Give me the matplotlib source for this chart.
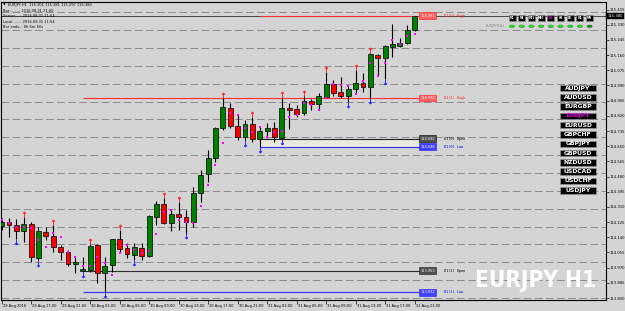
import matplotlib
matplotlib.use('Agg')
import matplotlib.pyplot as plt
import matplotlib.transforms as mtransforms
from matplotlib.patches import Rectangle, Circle
from matplotlib import font_manager
from matplotlib.font_manager import FontProperties

# ---------------- data ----------------
opens = [114.205, 114.227, 114.209, 114.177, 114.213, 114.022, 114.171, 114.149, 114.084, 114.056,
         113.990, 113.953, 113.957, 114.095, 113.938, 113.985, 114.129, 114.078, 114.041, 114.082,
         114.037, 114.255, 114.325, 114.222, 114.270, 114.255, 114.224, 114.390, 114.494, 114.582,
         114.750, 114.862, 114.765, 114.700, 114.773, 114.690, 114.737, 114.754, 114.698, 114.866,
         114.858, 114.834, 114.903, 114.886, 114.927, 114.997, 114.952, 114.933, 114.969, 115.002,
         114.980, 115.161, 115.146, 115.204, 115.213, 115.230, 115.301]
highs = [114.248, 114.248, 114.242, 114.251, 114.226, 114.199, 114.199, 114.209, 114.097, 114.069,
         114.031, 114.031, 114.100, 114.101, 114.031, 114.133, 114.181, 114.106, 114.106, 114.108,
         114.265, 114.345, 114.360, 114.293, 114.339, 114.293, 114.423, 114.517, 114.629, 114.759,
         114.920, 114.890, 114.825, 114.797, 114.815, 114.759, 114.782, 114.787, 114.928, 114.890,
         114.881, 114.931, 114.914, 114.946, 115.067, 115.021, 115.039, 114.993, 115.077, 115.058,
         115.172, 115.165, 115.217, 115.333, 115.254, 115.329, 115.381]
lows = [114.181, 114.143, 114.130, 114.115, 114.003, 114.007, 114.125, 114.059, 114.013, 113.979,
        113.938, 113.946, 113.947, 113.882, 113.832, 113.947, 114.050, 114.022, 114.013, 114.013,
        114.032, 114.209, 114.214, 114.177, 114.181, 114.161, 114.196, 114.339, 114.451, 114.563,
        114.741, 114.750, 114.685, 114.679, 114.675, 114.644, 114.694, 114.675, 114.688, 114.746,
        114.815, 114.825, 114.853, 114.858, 114.922, 114.933, 114.918, 114.897, 114.946, 114.952,
        114.917, 115.043, 115.026, 115.148, 115.204, 115.221, 115.297]
closes = [114.227, 114.209, 114.177, 114.214, 114.028, 114.173, 114.147, 114.084, 114.056, 113.990,
          114.003, 113.962, 114.091, 113.938, 113.981, 114.129, 114.076, 114.045, 114.087, 114.037,
          114.259, 114.326, 114.222, 114.270, 114.252, 114.227, 114.386, 114.489, 114.582, 114.754,
          114.868, 114.765, 114.700, 114.773, 114.689, 114.735, 114.750, 114.699, 114.862, 114.854,
          114.829, 114.903, 114.886, 114.931, 114.998, 114.946, 114.933, 114.970, 115.002, 114.980,
          115.165, 115.146, 115.211, 115.221, 115.226, 115.301, 115.380]
dots = [114.237, 114.218, 114.199, 114.199, 114.194, 114.125, 114.087, 114.166, 114.140, 114.056,
        114.030, 113.979, 113.979, 114.031, 113.994, 113.929, 114.054, 114.097, 114.069, 114.054,
        114.065, 114.157, 114.280, 114.293, 114.237, 114.226, 114.222, 114.315, 114.433, 114.546,
        114.670, 114.834, 114.826, 114.750, 114.728, 114.759, 114.703, 114.728, 114.735, 114.812,
        114.825, 114.894, 114.881, 114.853, 114.922, 114.998, 114.993, 114.987, 114.941, 115.015,
        115.117, 115.045, 115.117, 115.245, 115.222, 115.269, 115.278]
up_arrows = [3, 7, 12, 16, 22, 24, 30, 34, 38, 41, 44, 48, 50]
down_arrows = [2, 5, 11, 14, 18, 25, 33, 35, 38, 47, 50, 52]

time_tick_idx = [0, 4, 8, 12, 16, 20, 24, 28, 32, 36, 40, 44, 48, 52, 56]
time_tick_labels = ["29 Aug 2016", "29 Aug 17:00", "29 Aug 21:00", "30 Aug 01:00", "30 Aug 05:00",
                    "30 Aug 09:00", "30 Aug 13:00", "30 Aug 17:00", "30 Aug 21:00", "31 Aug 01:00",
                    "31 Aug 05:00", "31 Aug 09:00", "31 Aug 13:00", "31 Aug 17:00", "31 Aug 21:00"]
price_labels = [113.800, 113.885, 113.970, 114.055, 114.140, 114.225, 114.310, 114.395, 114.480,
                114.565, 114.650, 114.735, 114.820, 114.905, 114.990, 115.075, 115.160, 115.245,
                115.330, 115.415]
grid_levels = [113.8, 113.9, 114.0, 114.1, 114.2, 114.3, 114.4, 114.5, 114.6, 114.7, 114.8,
               114.9, 115.0, 115.1, 115.2, 115.3, 115.4]
bid = 115.380

d1_today_start = 35
d1_prev_start = 11
d0_high, d0_open, d0_low = 115.381, 114.692, 114.648
d1_high, d1_open, d1_low = 114.920, 113.953, 113.832

symbols = ["AUDJPY", "AUDUSD", "EURGBP", "EURJPY", "EURUSD", "GBPCHF", "GBPJPY", "GBPUSD",
           "NZDUSD", "USDCAD", "USDCHF", "USDJPY"]
timeframes = ["M1", "M5", "M15", "M30", "H1", "H4", "D1", "W1", "MN"]

header = "EURJPY,H1  115.301 115.381 115.297 115.380"
info_lines = ["Bar.........: 2016.08.31 21:00", "Server.....: 2016.08.31 21:54",
              "Local.......: 2016.08.31 11:54", "Bar ends..: 0h 5m 56s"]

# ---------------- figure ----------------
W, H = 625, 311
BG = '#d4d4d4'
plt.rcParams['lines.scale_dashes'] = False
fig = plt.figure(figsize=(W / 100, H / 100), dpi=100)
fig.patch.set_facecolor(BG)


def fx(px):
    return px / W


def fy(py):
    return 1 - py / H


X0, X1, YT, YB = 1.5, 605.5, 1.7, 300.0
ax = fig.add_axes([fx(X0), fy(YB), (X1 - X0) / W, (YB - YT) / H])
ax.set_facecolor(BG)
BAR0, STEP = 1.6, 7.375
ax.set_xlim((X0 - BAR0) / STEP, (X1 - BAR0) / STEP)
PPU = 178.6
ax.set_ylim(113.8 - (YB - 298) / PPU, 113.8 + (298 - YT) / PPU)
for s in ax.spines.values():
    s.set_color('black')
    s.set_linewidth(0.8)

xs = list(range(len(opens)))
xmin, xmax = ax.get_xlim()

ax.hlines(grid_levels, xmin, xmax, colors='#8a8a8a', linestyles=(0, (5.6, 2.4)), lw=0.7, zorder=1)

label_x = (419.5 - BAR0) / STEP
ax.add_patch(Rectangle((d1_today_start, d0_low), label_x - d1_today_start, d0_open - d0_low,
                       facecolor='#e9e9dc', edgecolor='none', zorder=1.5))

ax.axhline(bid, color='#303030', lw=0.6, zorder=2)

lev = [
    (d0_high, d1_today_start, '#ff3030', '#ff6060', 'white', 'D1(0) High', '#ff2020'),
    (d0_open, d1_today_start, '#202020', '#505050', 'white', 'D1(0) Open', '#000000'),
    (d0_low, d1_today_start, '#3030ff', '#4040ff', 'white', 'D1(0) Low', '#0000ff'),
    (d1_high, d1_prev_start, '#ff3030', '#ff6060', 'white', 'D1(1) High', '#ff2020'),
    (d1_open, d1_prev_start, '#303030', '#505050', 'white', 'D1(1) Open', '#000000'),
    (d1_low, d1_prev_start, '#3030ff', '#4040ff', 'white', 'D1(1) Low', '#0000ff'),
]
for price, start, lc, fc, tc, name, nc in lev:
    ax.hlines(price, start, label_x, colors=lc, lw=0.8, zorder=2.2)
    ax.text(label_x + 0.15, price, f"{price:.3f}", fontsize=2.5, color=tc, ha='left', va='center',
            zorder=6, clip_on=False,
            bbox=dict(boxstyle='square,pad=0.35', fc=fc, ec=lc, lw=0.5))
    ax.text((443.5 - BAR0) / STEP, price, name, fontsize=2.6, color=nc, ha='left', va='center',
            family='DejaVu Sans Mono', zorder=6)

ax.vlines(xs, lows, highs, colors='black', lw=0.8, zorder=3)
bcol = ['#008000' if c >= o else '#ff0000' for o, c in zip(opens, closes)]
heights = [max(abs(c - o), 0.0035) for o, c in zip(opens, closes)]
bottoms = [min(o, c) for o, c in zip(opens, closes)]
ax.bar(xs, heights, bottom=bottoms, width=0.66, color=bcol, edgecolor='black', linewidth=0.5,
       zorder=4)

ax.scatter(xs, dots, marker='s', s=1.6, color='#ff00ff', linewidths=0, zorder=5)
ax.scatter(up_arrows, [highs[i] + 0.017 for i in up_arrows], marker=r'$\uparrow$', s=14,
           color='#ff2020', linewidths=0.3, zorder=5)
ax.scatter(down_arrows, [lows[i] - 0.015 for i in down_arrows], marker=r'$\downarrow$', s=14,
           color='#2020ff', linewidths=0.3, zorder=5)

ax.yaxis.tick_right()
ax.set_yticks(price_labels)
ax.set_yticklabels([f"{p:.3f}" for p in price_labels])
ax.tick_params(axis='y', length=2.2, width=0.5, pad=1.0, labelsize=2.7, colors='black')
ax.set_xticks(time_tick_idx)
ax.set_xticklabels(time_tick_labels)
ax.tick_params(axis='x', length=2.6, width=0.5, pad=0.6, labelsize=2.6, colors='black')
off = mtransforms.ScaledTranslation(1.2 / 100, 0, fig.dpi_scale_trans)
for lab in ax.get_xticklabels():
    lab.set_ha('left')
    lab.set_transform(lab.get_transform() + off)

trans = mtransforms.blended_transform_factory(ax.transAxes, ax.transData)
ax.text(1.003, bid, f"{bid:.3f}", transform=trans, fontsize=2.7, color='white', ha='left',
        va='center', zorder=7, clip_on=False,
        bbox=dict(boxstyle='square,pad=0.3', fc='black', ec='black', lw=0.3))

fig.text(fx(2.5), fy(5), "\u25bc", fontsize=2.6, ha='left', va='center', color='black')
fig.text(fx(8.5), fy(5), header, fontsize=2.6, ha='left', va='center', color='black')
for k, line in enumerate(info_lines):
    fig.text(fx(3), fy(10.7 + 5.5 * k), line, fontsize=2.6, ha='left', va='center', color='black')

for k, tf in enumerate(timeframes):
    cx = 512 + 9.7 * k
    fig.patches.append(Rectangle((fx(cx - 3.5), fy(21)), 7 / W, 6 / H, transform=fig.transFigure,
                                 facecolor='black', edgecolor='#909090', lw=0.4))
    fig.text(fx(cx), fy(18), tf, fontsize=1.9, color='#ff00ff' if tf == 'H1' else 'white',
             ha='center', va='center', weight='bold')
    fig.patches.append(Circle((fx(cx), fy(26.3)), 2.6 / W, transform=fig.transFigure,
                              facecolor='#008000' if tf == 'MN' else '#00ff00',
                              edgecolor='#408040', lw=0.4))
fig.text(fx(486), fy(26), "EURJPY(H1)", fontsize=2.4, color='#808080', ha='left', va='center')

for k, sym in enumerate(symbols):
    cy = 88 + 9.3 * k
    fig.patches.append(Rectangle((fx(560), fy(cy + 3.2)), 36 / W, 6.4 / H, transform=fig.transFigure,
                                 facecolor='black', edgecolor='#a0a0a0', lw=0.4))
    fig.text(fx(578), fy(cy), sym, fontsize=4.4, color='#e000e0' if sym == 'EURJPY' else 'white',
             ha='center', va='center', weight='bold')


# watermark: a bold, narrow face if one is installed
def wnum(w):
    if isinstance(w, (int, float)):
        return w
    return font_manager.weight_dict.get(str(w), 400)


entries = font_manager.fontManager.ttflist
bold_narrow = [f for f in entries
               if ('Narrow' in f.name or 'Condensed' in f.name or 'condensed' in str(f.stretch).lower())
               and wnum(f.weight) >= 700 and 'italic' not in f.style.lower()
               and 'Oblique' not in f.fname and 'Italic' not in f.fname]
bold_narrow.sort(key=lambda f: (0 if 'Liberation' in f.name else 1 if 'DejaVu' in f.name else 2,
                                f.fname))
if bold_narrow:
    wm_fp = FontProperties(fname=bold_narrow[0].fname)
else:
    wm_fp = FontProperties(family='Liberation Sans', weight='bold')
wm_fp.set_size(20)
wm = fig.text(fx(475), fy(286.5), "EURJPY H1", fontproperties=wm_fp, color='white',
              ha='left', va='baseline', zorder=8)
fig.canvas.draw()
bb = wm.get_window_extent()
wm.set_fontsize(20 * 121.0 / bb.width)

fig.savefig('out.png', dpi=100, facecolor=BG)
